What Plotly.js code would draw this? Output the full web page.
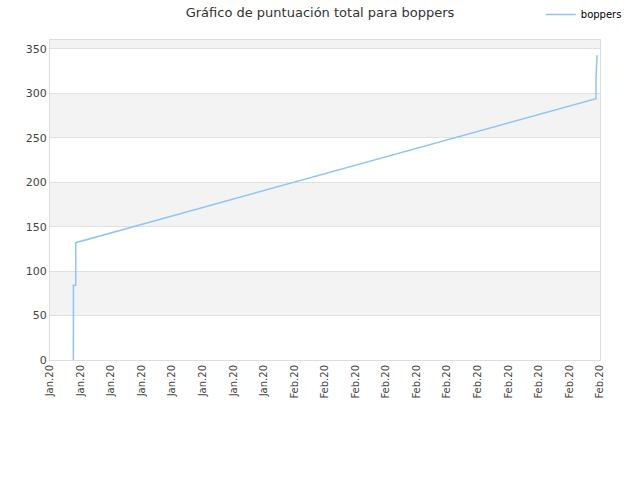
<!DOCTYPE html>
<html>
<head>
<meta charset="utf-8">
<script src="https://cdn.plot.ly/plotly-3.0.1.min.js"></script>
<style>body{margin:0;}</style>
</head>
<body>
<div id="chart" style="width:640px;height:480px;"></div>
<script>
// score history for boppers
var times = ['2020-01-12 02:50', '2020-01-12 03:00', '2020-01-12 03:10', '2020-01-12 08:10', '2020-01-12 08:10',
             '2020-02-28 13:10', '2020-02-28 15:20', '2020-02-28 15:20', '2020-02-28 17:30'];
var scores = [0, 4, 84, 84, 132, 294, 294, 318, 343];

var xStart = '2020-01-10';
var xEnd = '2020-02-29';
var yTicks = [0, 50, 100, 150, 200, 250, 300, 350];
var yMax = 360;

// 19 evenly spaced x ticks
var t0 = new Date(xStart + 'T00:00:00Z').getTime();
var t1 = new Date(xEnd + 'T00:00:00Z').getTime();
var xTicks = [];
for (var i = 0; i <= 18; i++) {
    xTicks.push(t0 + (t1 - t0) * i / 18);
}

// alternating grey bands
var shapes = [];
var bandEdges = yTicks.concat([yMax]);
for (var j = 1; j < bandEdges.length - 1; j += 2) {
    shapes.push({
        type: 'rect', xref: 'paper', yref: 'y', layer: 'below',
        x0: 0, x1: 1, y0: bandEdges[j], y1: bandEdges[j + 1],
        fillcolor: '#f3f3f3', line: {width: 0}
    });
}

var data = [{
    x: times, y: scores, type: 'scatter', mode: 'lines', name: 'boppers',
    line: {color: '#90c4f4', width: 1.5}
}];

var layout = {
    width: 640, height: 480,
    margin: {l: 50, r: 40, t: 40, b: 120, autoexpand: false},
    font: {family: 'DejaVu Sans', size: 10, color: '#444'},
    title: {text: 'Gráfico de puntuación total para boppers', font: {size: 13, color: '#333'}, x: 0.5, y: 0.975, yanchor: 'middle'},
    showlegend: true,
    legend: {x: 0.845, y: 0.97, xref: 'container', yref: 'container', xanchor: 'left', yanchor: 'middle',
             itemwidth: 30, font: {size: 10, color: '#000'}, bgcolor: 'rgba(0,0,0,0)'},
    xaxis: {
        type: 'date', range: [xStart, xEnd], tickmode: 'array', tickvals: xTicks,
        tickformat: '%b.%y', tickangle: -90, showgrid: false,
        showline: true, linecolor: '#ddd', mirror: true, zeroline: false
    },
    yaxis: {
        range: [0, yMax], tickvals: yTicks, gridcolor: '#e0e0e0', tickfont: {size: 11},
        showline: true, linecolor: '#ddd', mirror: true, zeroline: false
    },
    shapes: shapes,
    plot_bgcolor: '#fff', paper_bgcolor: '#fff'
};

Plotly.newPlot('chart', data, layout, {displayModeBar: false});
</script>
</body>
</html>
